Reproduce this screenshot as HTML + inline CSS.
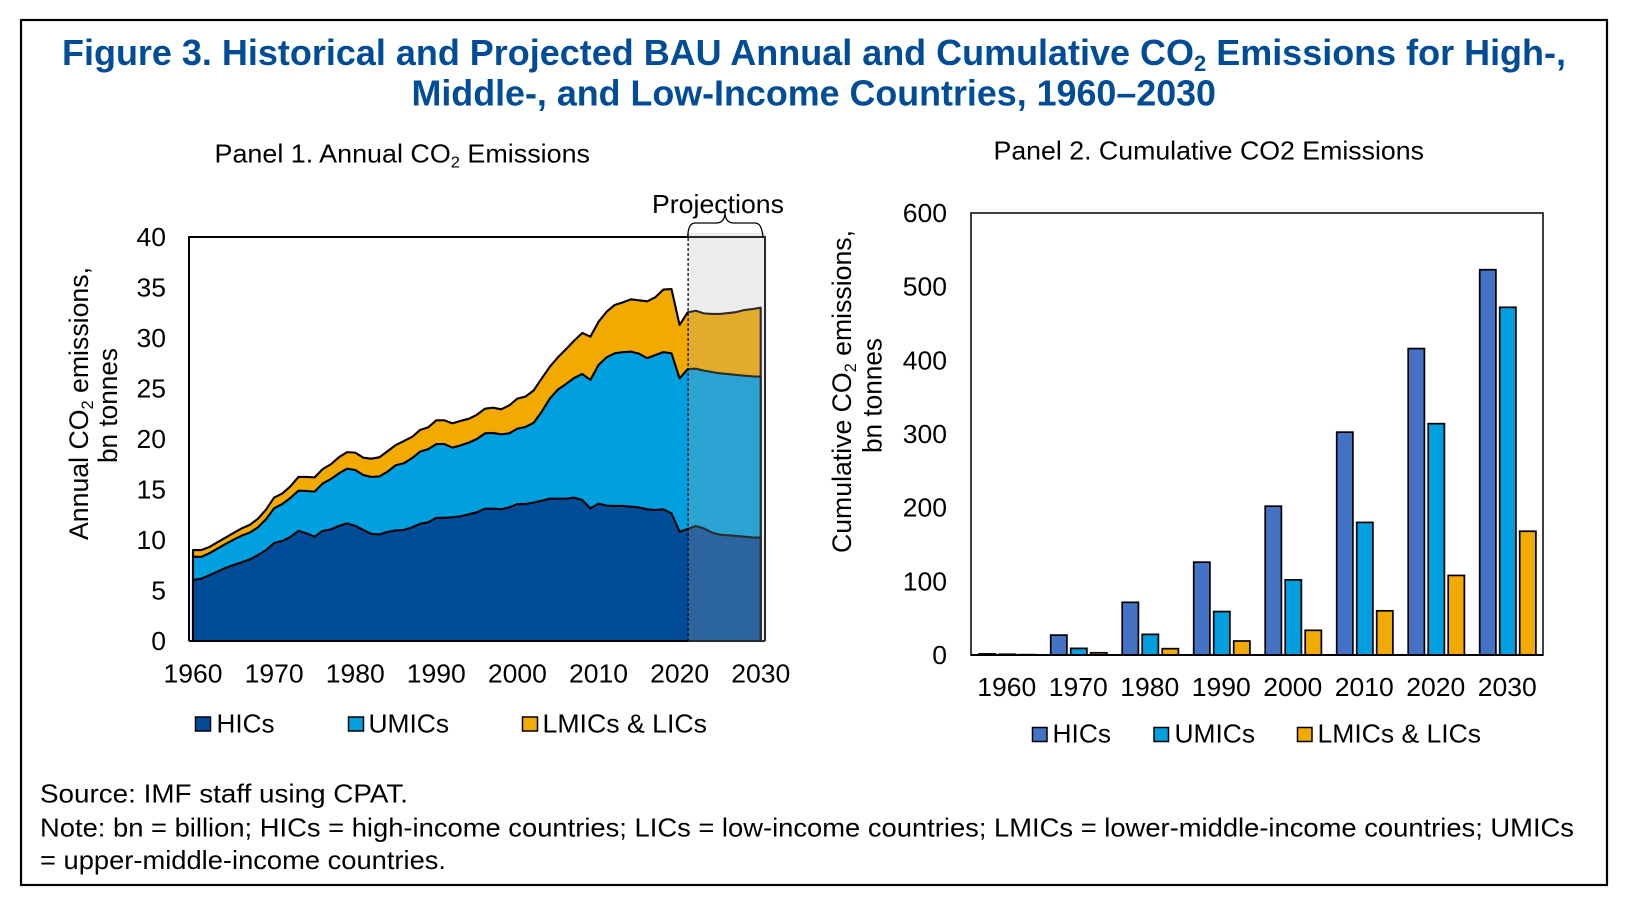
<!DOCTYPE html>
<html lang="en">
<head>
<meta charset="utf-8">
<title>Figure 3. Historical and Projected BAU CO2 Emissions</title>
<style>
  html, body { margin: 0; padding: 0; background: #ffffff; }
  svg { display: block; }
  text { font-family: "Liberation Sans", Arial, sans-serif; fill: #000000; }
</style>
</head>
<body>
<svg id="fig" xmlns="http://www.w3.org/2000/svg" width="1632" height="902" viewBox="0 0 1632 902">
  <rect x="21" y="20" width="1586" height="865" fill="#ffffff" stroke="#000000" stroke-width="2.2"></rect>

  <text x="62" y="65" font-size="36" font-weight="700" style="fill:#004c97" textLength="1504" lengthAdjust="spacingAndGlyphs">Figure 3. Historical and Projected BAU Annual and Cumulative CO<tspan font-size="22" dy="6">2</tspan><tspan dy="-6"> Emissions for High-,</tspan></text>
  <text x="411.5" y="105.5" font-size="36" font-weight="700" style="fill:#004c97" textLength="804.5" lengthAdjust="spacingAndGlyphs">Middle-, and Low-Income Countries, 1960–2030</text>

  <text x="214.5" y="162.7" font-size="26" textLength="375.5" lengthAdjust="spacingAndGlyphs">Panel 1. Annual CO<tspan font-size="16" dy="5">2</tspan><tspan dy="-5"> Emissions</tspan></text>
  <text x="993.5" y="159.3" font-size="26" textLength="430.5" lengthAdjust="spacingAndGlyphs">Panel 2. Cumulative CO2 Emissions</text>

  <g id="panel1"></g>
  <g id="panel2"></g>

  <text transform="translate(88 540) scale(1.04 1) rotate(-90)" font-size="26" textLength="273" lengthAdjust="spacingAndGlyphs">Annual CO<tspan font-size="16" dy="5">2</tspan><tspan dy="-5"> emissions,</tspan></text>
  <text transform="translate(117 463) scale(1.04 1) rotate(-90)" font-size="26" textLength="115" lengthAdjust="spacingAndGlyphs">bn tonnes</text>
  <text transform="translate(851 553) scale(1.04 1) rotate(-90)" font-size="26" textLength="323" lengthAdjust="spacingAndGlyphs">Cumulative CO<tspan font-size="16" dy="5">2</tspan><tspan dy="-5"> emissions,</tspan></text>
  <text transform="translate(881.5 453) scale(1.04 1) rotate(-90)" font-size="26" textLength="115" lengthAdjust="spacingAndGlyphs">bn tonnes</text>

  <path d="M687.7 237 C688 228 690 223 695 223 L716 223 C722 223 725 219 725 212 C725 219 728 223 734 223 L755 223 C760 223 762 228 763 237" fill="none" stroke="#000000" stroke-width="1.3"></path>
  <text x="652" y="213" font-size="26" textLength="132" lengthAdjust="spacingAndGlyphs">Projections</text>

  <g>
    <rect x="195.5" y="717" width="15" height="14" fill="#004c97" stroke="#000000" stroke-width="1.5"></rect>
    <text x="216.5" y="732.5" font-size="26" textLength="58" lengthAdjust="spacingAndGlyphs">HICs</text>
    <rect x="348.5" y="717" width="15" height="14" fill="#009fdf" stroke="#000000" stroke-width="1.5"></rect>
    <text x="368.5" y="732.5" font-size="26" textLength="80.5" lengthAdjust="spacingAndGlyphs">UMICs</text>
    <rect x="522.5" y="717" width="15" height="14" fill="#f2a900" stroke="#000000" stroke-width="1.5"></rect>
    <text x="542.5" y="732.5" font-size="26" textLength="164.5" lengthAdjust="spacingAndGlyphs">LMICs &amp; LICs</text>
  </g>
  <g>
    <rect x="1032.5" y="727.5" width="14.5" height="14" fill="#4472c4" stroke="#000000" stroke-width="1.5"></rect>
    <text x="1052.5" y="742.5" font-size="26" textLength="58.5" lengthAdjust="spacingAndGlyphs">HICs</text>
    <rect x="1154" y="727.5" width="14.5" height="14" fill="#009fdf" stroke="#000000" stroke-width="1.5"></rect>
    <text x="1174.5" y="742.5" font-size="26" textLength="80.5" lengthAdjust="spacingAndGlyphs">UMICs</text>
    <rect x="1297.5" y="727.5" width="14.5" height="14" fill="#f2a900" stroke="#000000" stroke-width="1.5"></rect>
    <text x="1317.5" y="742.5" font-size="26" textLength="163.5" lengthAdjust="spacingAndGlyphs">LMICs &amp; LICs</text>
  </g>

  <text x="40" y="802.7" font-size="26" textLength="368" lengthAdjust="spacingAndGlyphs">Source: IMF staff using CPAT.</text>
  <text x="40" y="836.7" font-size="26" textLength="1534" lengthAdjust="spacingAndGlyphs">Note: bn = billion; HICs = high-income countries; LICs = low-income countries; LMICs = lower-middle-income countries; UMICs</text>
  <text x="40" y="869" font-size="26" textLength="406" lengthAdjust="spacingAndGlyphs">= upper-middle-income countries.</text>
</svg>

<script>
// ---------- Panel 1 data (bn tonnes, annual 1960-2030) ----------
const firstYear = 1960;
const lastYear = 2030;
const projectionStartYear = 2021.05;
const annualYTicks = [0, 5, 10, 15, 20, 25, 30, 35, 40];
const annualXTicks = [1960, 1970, 1980, 1990, 2000, 2010, 2020, 2030];

// Upper edge of the HICs band
const annualHics = [
  6.04, 6.17, 6.5, 6.86, 7.23, 7.52, 7.79, 8.08, 8.5, 9.0,
  9.7, 9.9, 10.3, 10.9, 10.66, 10.33, 10.9, 11.05, 11.4, 11.65,
  11.4, 11.0, 10.6, 10.55, 10.8, 10.95, 11.0, 11.25, 11.6, 11.75,
  12.2, 12.2, 12.25, 12.35, 12.55, 12.74, 13.1, 13.1, 13.04, 13.23,
  13.56, 13.56, 13.7, 13.9, 14.09, 14.09, 14.09, 14.2, 13.96, 13.13,
  13.6, 13.4, 13.37, 13.37, 13.3, 13.23, 13.04, 12.97, 13.04, 12.64,
  10.82, 11.09, 11.39, 11.15, 10.73, 10.53, 10.46, 10.4, 10.33, 10.26, 10.23
];
// Upper edge of the UMICs band (stacked on HICs)
const annualHicsPlusUmics = [
  8.35, 8.32, 8.68, 9.14, 9.6, 10.03, 10.43, 10.73, 11.25, 12.05,
  13.14, 13.56, 14.16, 14.88, 14.85, 14.79, 15.6, 16.04, 16.6, 17.06,
  16.93, 16.44, 16.24, 16.3, 16.77, 17.4, 17.6, 18.1, 18.75, 19.0,
  19.5, 19.5, 19.14, 19.37, 19.64, 20.0, 20.56, 20.6, 20.46, 20.56,
  21.02, 21.19, 21.6, 22.7, 24.0, 24.9, 25.45, 26.04, 26.44, 25.84,
  27.33, 28.09, 28.48, 28.6, 28.65, 28.45, 28.0, 28.3, 28.6, 28.48,
  26.0, 26.93, 26.96, 26.77, 26.63, 26.5, 26.43, 26.34, 26.27, 26.2, 26.17
];
// Upper edge of the LMICs & LICs band (world total)
const annualTotal = [
  9.0, 9.0, 9.3, 9.77, 10.23, 10.7, 11.15, 11.5, 12.1, 13.0,
  14.2, 14.6, 15.3, 16.24, 16.24, 16.2, 17.03, 17.5, 18.2, 18.7,
  18.65, 18.15, 18.05, 18.2, 18.8, 19.4, 19.8, 20.2, 20.9, 21.15,
  21.85, 21.85, 21.55, 21.8, 22.0, 22.4, 23.0, 23.1, 22.94, 23.33,
  24.0, 24.2, 24.8, 26.0, 27.16, 28.09, 28.9, 29.74, 30.5, 30.13,
  31.6, 32.6, 33.27, 33.53, 33.83, 33.73, 33.63, 34.03, 34.8, 34.85,
  31.29, 32.54, 32.7, 32.44, 32.38, 32.38, 32.47, 32.57, 32.77, 32.87, 33.0
];

// ---------- Panel 2 data (bn tonnes, cumulative) ----------
const cumulativeDecades = ['1960', '1970', '1980', '1990', '2000', '2010', '2020', '2030'];
const cumulativeYTicks = [0, 100, 200, 300, 400, 500, 600];
const cumulativeHics = [1.5, 27, 71.5, 126, 202, 302.5, 416, 523];
const cumulativeUmics = [1, 9, 28, 59, 102, 180, 314, 472];
const cumulativeLmics = [0.5, 3, 8.6, 19, 33.5, 60, 108, 168];

// ---------- Helpers ----------
const SVG_NS = 'http://www.w3.org/2000/svg';
function make(parent, tag) {
  const el = document.createElementNS(SVG_NS, tag);
  parent.appendChild(el);
  return el;
}
function label(parent, x, y, str, anchor) {
  const el = make(parent, 'text');
  el.setAttribute('transform', 'translate(' + x + ' ' + y + ') scale(1.02 1)');
  el.setAttribute('font-size', '26');
  el.setAttribute('text-anchor', anchor);
  el.textContent = str;
  return el;
}

// ---------- Panel 1 ----------
const p1 = document.getElementById('panel1');
const p1Left = 189, p1Right = 765, p1Top = 237, p1Bottom = 641;
const p1X0 = 193, p1X1 = 760.7;
function xAnnual(year) { return p1X0 + (year - firstYear) * (p1X1 - p1X0) / (lastYear - firstYear); }
function yAnnual(v) { return p1Bottom - v * (p1Bottom - p1Top) / 40; }

const p1Frame = make(p1, 'path');
p1Frame.setAttribute('d', 'M' + p1Left + ' ' + p1Bottom + ' V' + p1Top + ' H' + p1Right + ' V' + p1Bottom);
p1Frame.setAttribute('fill', 'none');
p1Frame.setAttribute('stroke', '#000000');
p1Frame.setAttribute('stroke-width', '2');



function bandPoints(upper) {
  const pts = [];
  upper.forEach(function (v, i) {
    pts.push(xAnnual(firstYear + i).toFixed(2) + ',' + yAnnual(v).toFixed(2));
  });
  pts.push(xAnnual(lastYear).toFixed(2) + ',' + yAnnual(0).toFixed(2));
  pts.push(xAnnual(firstYear).toFixed(2) + ',' + yAnnual(0).toFixed(2));
  return pts.join(' ');
}

const areaLmics = make(p1, 'polygon');
areaLmics.setAttribute('points', bandPoints(annualTotal));
areaLmics.setAttribute('fill', '#f2a900');
areaLmics.setAttribute('stroke', '#000000');
areaLmics.setAttribute('stroke-width', '2.1');
areaLmics.setAttribute('stroke-linejoin', 'round');



const areaUmics = make(p1, 'polygon');
areaUmics.setAttribute('points', bandPoints(annualHicsPlusUmics));
areaUmics.setAttribute('fill', '#009fdf');
areaUmics.setAttribute('stroke', '#000000');
areaUmics.setAttribute('stroke-width', '2.1');
areaUmics.setAttribute('stroke-linejoin', 'round');



const areaHics = make(p1, 'polygon');
areaHics.setAttribute('points', bandPoints(annualHics));
areaHics.setAttribute('fill', '#004c97');
areaHics.setAttribute('stroke', '#000000');
areaHics.setAttribute('stroke-width', '2.1');
areaHics.setAttribute('stroke-linejoin', 'round');



const p1Base = make(p1, 'line');
p1Base.setAttribute('x1', p1Left);
p1Base.setAttribute('x2', p1Right);
p1Base.setAttribute('y1', p1Bottom);
p1Base.setAttribute('y2', p1Bottom);
p1Base.setAttribute('stroke', '#000000');
p1Base.setAttribute('stroke-width', '2');



const projShade = make(p1, 'rect');
projShade.setAttribute('x', xAnnual(projectionStartYear));
projShade.setAttribute('y', 233);
projShade.setAttribute('width', p1Right + 1.5 - xAnnual(projectionStartYear));
projShade.setAttribute('height', p1Bottom + 1.5 - 233);
projShade.setAttribute('fill', 'rgb(180,180,180)');
projShade.setAttribute('fill-opacity', '0.24');



const projLine = make(p1, 'line');
projLine.setAttribute('x1', xAnnual(projectionStartYear));
projLine.setAttribute('x2', xAnnual(projectionStartYear));
projLine.setAttribute('y1', 233);
projLine.setAttribute('y2', p1Bottom);
projLine.setAttribute('stroke', '#000000');
projLine.setAttribute('stroke-width', '1.2');
projLine.setAttribute('stroke-dasharray', '3 2');



annualYTicks.forEach(function (t) {
  const el = label(p1, 166, yAnnual(t) + 9, String(t), 'end');
  
  
});
annualXTicks.forEach(function (t) {
  const el = label(p1, xAnnual(t), 682.7, String(t), 'middle');
  
  
});

// ---------- Panel 2 ----------
const p2 = document.getElementById('panel2');
const p2Left = 971, p2Right = 1543, p2Top = 213, p2Bottom = 655;
const p2Band = (p2Right - p2Left) / cumulativeDecades.length;
const barWidth = 16.2, barPitch = 20, groupPad = 8.2;
function yCumulative(v) { return p2Bottom - v * (p2Bottom - p2Top) / 600; }
function xGroup(i) { return p2Left + i * p2Band; }

const p2Frame = make(p2, 'rect');
p2Frame.setAttribute('x', p2Left);
p2Frame.setAttribute('y', p2Top);
p2Frame.setAttribute('width', p2Right - p2Left);
p2Frame.setAttribute('height', p2Bottom - p2Top);
p2Frame.setAttribute('fill', 'none');
p2Frame.setAttribute('stroke', '#111111');
p2Frame.setAttribute('stroke-width', '1.6');



function drawBars(values, offset, fill, seriesName) {
  values.forEach(function (v, i) {
    const bar = make(p2, 'rect');
    bar.setAttribute('x', xGroup(i) + groupPad + offset * barPitch);
    bar.setAttribute('y', yCumulative(v));
    bar.setAttribute('width', barWidth);
    bar.setAttribute('height', p2Bottom - yCumulative(v));
    bar.setAttribute('fill', fill);
    bar.setAttribute('stroke', '#000000');
    bar.setAttribute('stroke-width', '1.7');
    
    
  });
}
drawBars(cumulativeHics, 0, '#4472c4', 'hics');
drawBars(cumulativeUmics, 1, '#009fdf', 'umics');
drawBars(cumulativeLmics, 2, '#f2a900', 'lmics-lics');

const p2Base = make(p2, 'line');
p2Base.setAttribute('x1', p2Left);
p2Base.setAttribute('x2', p2Right);
p2Base.setAttribute('y1', p2Bottom);
p2Base.setAttribute('y2', p2Bottom);
p2Base.setAttribute('stroke', '#000000');
p2Base.setAttribute('stroke-width', '2');



cumulativeYTicks.forEach(function (t) {
  const el = label(p2, 947, yCumulative(t) + 9, String(t), 'end');
  
  
});
cumulativeDecades.forEach(function (d, i) {
  const el = label(p2, xGroup(i) + p2Band / 2, 696, d, 'middle');
  
  
});
</script>
</body>
</html>
